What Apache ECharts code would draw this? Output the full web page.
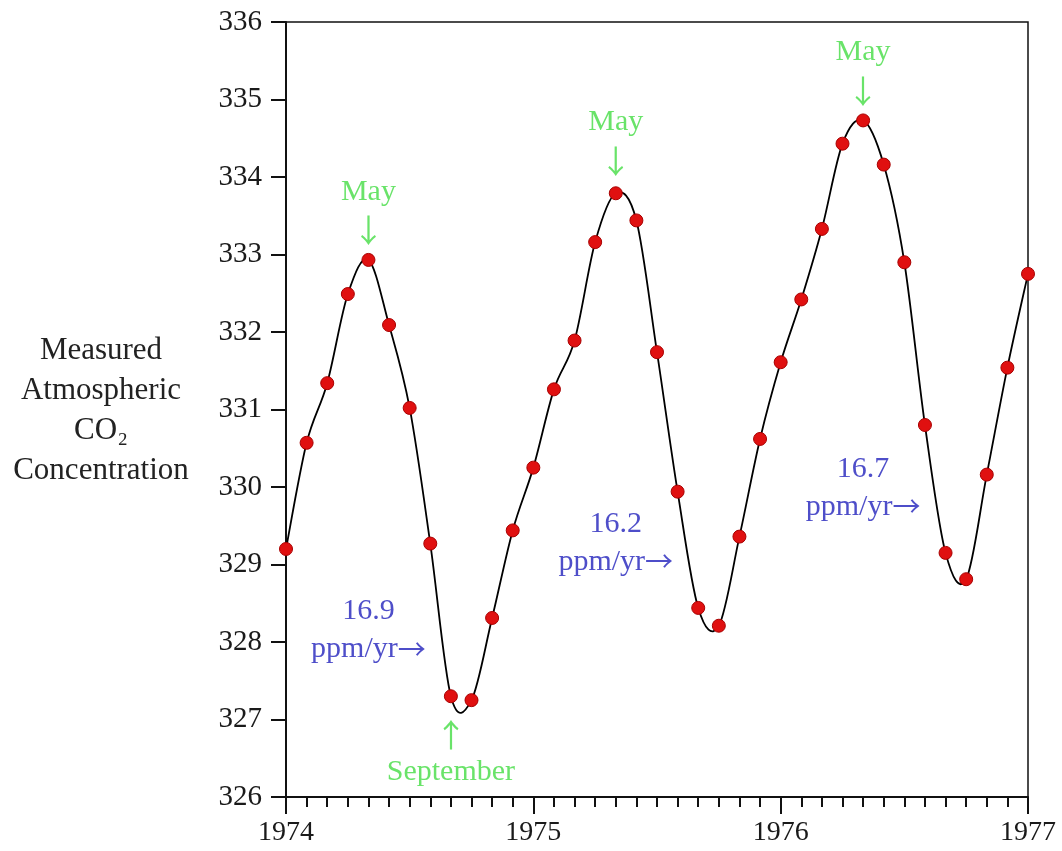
<!DOCTYPE html>
<html>
<head>
<meta charset="utf-8">
<script src="https://cdn.jsdelivr.net/npm/echarts@6/dist/echarts.min.js"></script>
<style>
  html, body { margin: 0; padding: 0; background: #fff; }
  #main { width: 1062px; height: 851px; }
</style>
</head>
<body>
<div id="main"></div>
<script>
// 月份序号（0 = 1974年1月）
var months = [0, 1, 2, 3, 4, 5, 6, 7, 8, 9, 10, 11,
              12, 13, 14, 15, 16, 17, 18, 19, 20, 21, 22, 23,
              24, 25, 26, 27, 28, 29, 30, 31, 32, 33, 34, 35, 36];
// 测得的CO2浓度 (ppm)
var co2 = [329.20, 330.57, 331.34, 332.49, 332.93, 332.09, 331.02, 329.27, 327.30, 327.25, 328.31, 329.44,
           330.25, 331.26, 331.89, 333.16, 333.79, 333.44, 331.74, 329.94, 328.44, 328.21, 329.36, 330.62,
           331.61, 332.42, 333.33, 334.43, 334.73, 334.16, 332.90, 330.80, 329.15, 328.81, 330.16, 331.54, 332.75];
// 横轴年份标签
var yearLabels = ['1974', '1975', '1976', '1977'];
// 绿色月份标注
var monthNoteText = ['{t|May}\n{a|\u2193}', '{t|May}\n{a|\u2193}', '{t|May}\n{a|\u2193}', '{a|\u2191}\n{t|September}'];
var monthNoteX = [4, 16, 28, 8];
var monthNoteY = [333.56, 334.46, 335.36, 326.56];
// 蓝色增长率标注
var rateNoteText = ['{t|16.9}\n{t|ppm/yr}{r|\u2192}', '{t|16.2}\n{t|ppm/yr}{r|\u2192}', '{t|16.7}\n{t|ppm/yr}{r|\u2192}'];
var rateNoteX = [4, 16, 28];
var rateNoteY = [328.15, 329.28, 329.99];

var serif = '"Liberation Serif", "DejaVu Serif", serif';
var arrowFont = '"Noto Sans CJK SC", "DejaVu Sans", sans-serif';

function pairs(xs, ys, names) {
    var res = [];
    for (var i = 0; i < xs.length; i++) {
        var item = { value: [xs[i], ys[i]] };
        if (names) item.name = names[i];
        res.push(item);
    }
    return res;
}

// 平滑曲线：经过所有数据点的 Catmull-Rom 样条
function renderCurve(params, api) {
    if (params.dataIndex !== 0) return;
    var pts = [];
    for (var i = 0; i < months.length; i++) {
        pts.push(api.coord([months[i], co2[i]]));
    }
    var d = 'M' + pts[0][0] + ' ' + pts[0][1];
    for (var j = 0; j < pts.length - 1; j++) {
        var p0 = pts[Math.max(j - 1, 0)], p1 = pts[j], p2 = pts[j + 1], p3 = pts[Math.min(j + 2, pts.length - 1)];
        var c1x = p1[0] + (p2[0] - p0[0]) / 6, c1y = p1[1] + (p2[1] - p0[1]) / 6;
        var c2x = p2[0] - (p3[0] - p1[0]) / 6, c2y = p2[1] - (p3[1] - p1[1]) / 6;
        d += ' C' + c1x + ' ' + c1y + ' ' + c2x + ' ' + c2y + ' ' + p2[0] + ' ' + p2[1];
    }
    return {
        type: 'path',
        shape: { pathData: d },
        style: { fill: null, stroke: '#000', lineWidth: 1.8 }
    };
}

function noteLabel(color) {
    return {
        show: true, position: 'inside',
        formatter: '{b}',
        rich: {
            t: { fontFamily: serif, fontSize: 30, lineHeight: 38, color: color },
            a: { fontFamily: arrowFont, fontSize: 32, lineHeight: 38, color: color },
            r: { fontFamily: arrowFont, fontSize: 28, lineHeight: 38, color: color }
        }
    };
}

var myChart = echarts.init(document.getElementById('main'));
var option = {
    backgroundColor: '#fff',
    animation: false,
    grid: {
        left: 286, right: 34, top: 22, bottom: 54,
        show: true, borderColor: '#111', borderWidth: 1.5
    },
    xAxis: {
        type: 'value',
        min: 0, max: 36, interval: 12,
        axisLine: { onZero: false, lineStyle: { color: '#111', width: 2 } },
        axisTick: { show: true, length: 17, lineStyle: { color: '#111', width: 2 } },
        minorTick: { show: true, splitNumber: 12, length: 10, lineStyle: { color: '#111', width: 2 } },
        splitLine: { show: false },
        axisLabel: {
            margin: 22,
            fontFamily: serif, fontSize: 28, color: '#1a1a1a',
            formatter: function (v) { return yearLabels[Math.round(v / 12)]; }
        }
    },
    yAxis: {
        type: 'value',
        min: 326, max: 336, interval: 1,
        axisLine: { lineStyle: { color: '#111', width: 2 } },
        axisTick: { show: true, length: 15, lineStyle: { color: '#111', width: 2 } },
        splitLine: { show: false },
        axisLabel: {
            margin: 24,
            fontFamily: serif, fontSize: 29, color: '#1a1a1a'
        }
    },
    graphic: [{
        type: 'text',
        x: 101, y: 411,
        style: {
            text: 'Measured\nAtmospheric\nCO\u2082\nConcentration',
            align: 'center', verticalAlign: 'middle',
            font: '31px ' + serif, lineHeight: 40, fill: '#222'
        }
    }],
    series: [
        {
            type: 'custom',
            data: [[0, co2[0]]],
            renderItem: renderCurve,
            silent: true,
            z: 2
        },
        {
            type: 'scatter',
            data: pairs(months, co2),
            symbol: 'circle',
            symbolSize: 13,
            itemStyle: { color: '#e01010', borderColor: '#a80000', borderWidth: 1, opacity: 1 },
            z: 3
        },
        {
            type: 'scatter',
            data: pairs(monthNoteX, monthNoteY, monthNoteText),
            symbolSize: 0,
            silent: true,
            label: noteLabel('#44dc44')
        },
        {
            type: 'scatter',
            data: pairs(rateNoteX, rateNoteY, rateNoteText),
            symbolSize: 0,
            silent: true,
            label: noteLabel('#2222bb')
        }
    ]
};
myChart.setOption(option);
window.addEventListener('resize', function () {
    myChart.resize();
});
</script>
</body>
</html>
